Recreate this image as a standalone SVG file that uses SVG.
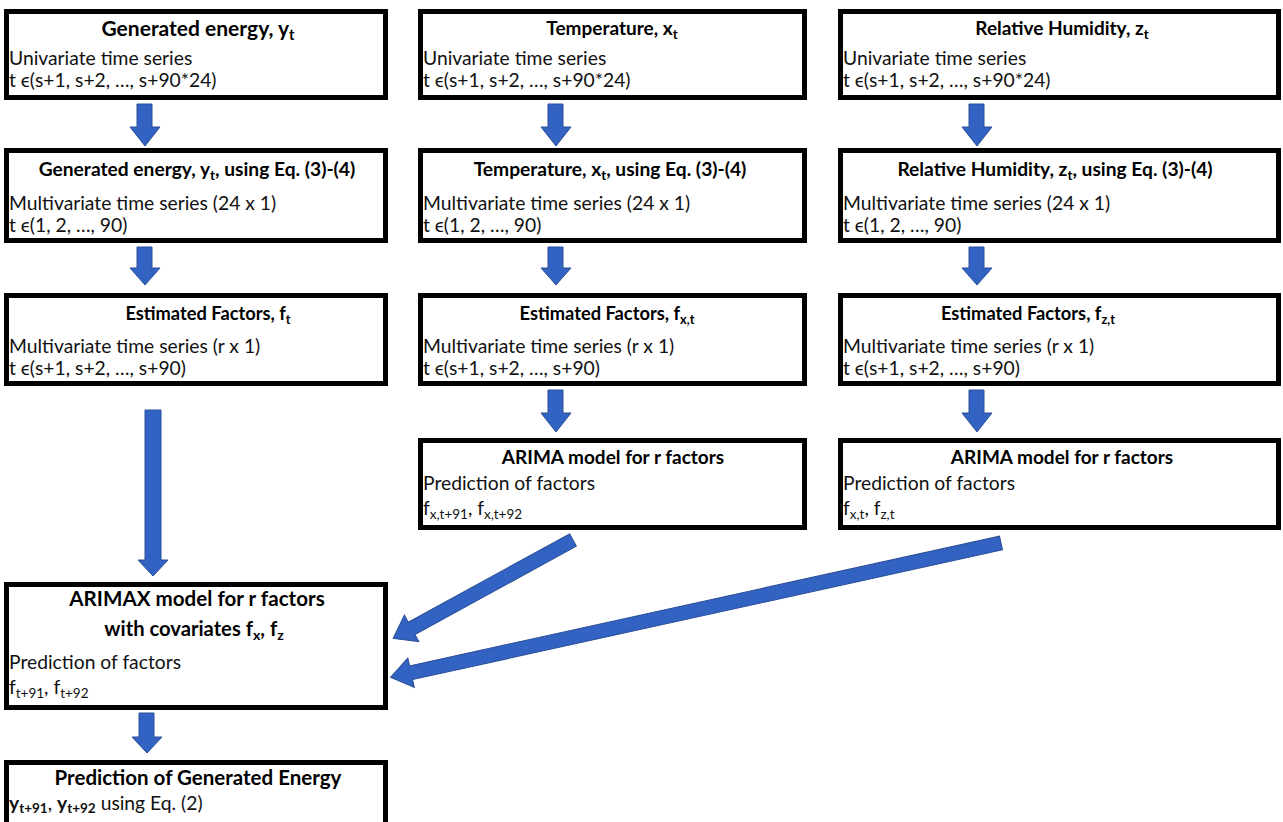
<svg xmlns="http://www.w3.org/2000/svg" width="1283" height="822" viewBox="0 0 1283 822">
<style>
.box{fill:#fff;stroke:#000;stroke-width:5}
.t{font-family:Lato,"Liberation Sans",sans-serif;font-weight:bold;fill:#000;text-anchor:middle}
.b{font-family:Lato,"Liberation Sans",sans-serif;fill:#111;font-size:19.3px}
.s{font-size:70%}
.arr{fill:#3262C2;stroke:#2A4E98;stroke-width:1}
</style>
<rect width="1283" height="822" fill="#fff"/>
<g id="connectors">
<path class="arr" d="M137,104 H152 V127 H160 L145,146 L130,127 H137 Z"/>
<path class="arr" d="M137,247 H152 V268 H160 L145,285 L130,268 H137 Z"/>
<path class="arr" d="M145,410 H161 V560 H168 L153,576 L138,560 H145 Z"/>
<path class="arr" d="M139,713 H154 V737 H162 L147,753 L132,737 H139 Z"/>
<path class="arr" d="M548,104 H563 V127 H571 L556,146 L541,127 H548 Z"/>
<path class="arr" d="M548,247 H563 V268 H571 L556,285 L541,268 H548 Z"/>
<path class="arr" d="M548,390 H563 V413 H571 L556,432 L541,413 H548 Z"/>
<path class="arr" d="M969,104 H984 V127 H992 L977,146 L962,127 H969 Z"/>
<path class="arr" d="M969,247 H984 V268 H992 L977,285 L962,268 H969 Z"/>
<path class="arr" d="M969,390 H984 V413 H992 L977,432 L962,413 H969 Z"/>
<path class="arr" transform="translate(573,540) rotate(151.3)" d="M0,-7 H184 V-15 L205,0 L184,15 V7 H0 Z"/>
<path class="arr" transform="translate(1001,543) rotate(167.6)" d="M0,-7 H604 V-15 L625,0 L604,15 V7 H0 Z"/>
</g>
<g id="n1">
<rect class="box" x="6.5" y="11.5" width="379" height="86"/>
<text class="t" x="198" y="36" font-size="21">Generated energy, y<tspan class="s" dy="4">t</tspan></text>
<text class="b" x="9" y="65">Univariate time series</text>
<text class="b" x="9" y="87">t ϵ(s+1, s+2, …, s+90*24)</text>
</g>
<g id="n2">
<rect class="box" x="420.5" y="11.5" width="384" height="86"/>
<text class="t" x="612" y="35" font-size="19">Temperature, x<tspan class="s" dy="4">t</tspan></text>
<text class="b" x="423" y="65">Univariate time series</text>
<text class="b" x="423" y="87">t ϵ(s+1, s+2, …, s+90*24)</text>
</g>
<g id="n3">
<rect class="box" x="840.5" y="11.5" width="438" height="86"/>
<text class="t" x="1062" y="35" font-size="19">Relative Humidity, z<tspan class="s" dy="4">t</tspan></text>
<text class="b" x="843" y="65">Univariate time series</text>
<text class="b" x="843" y="87">t ϵ(s+1, s+2, …, s+90*24)</text>
</g>
<g id="n4">
<rect class="box" x="6.5" y="150.5" width="379" height="90"/>
<text class="t" x="197" y="176" font-size="19.2">Generated energy, y<tspan class="s" dy="4">t</tspan><tspan dy="-4">, using Eq. (3)-(4)</tspan></text>
<text class="b" x="9" y="210">Multivariate time series (24 x 1)</text>
<text class="b" x="9" y="232">t ϵ(1, 2, …, 90)</text>
</g>
<g id="n5">
<rect class="box" x="420.5" y="150.5" width="384" height="90"/>
<text class="t" x="610" y="176" font-size="19.2">Temperature, x<tspan class="s" dy="4">t</tspan><tspan dy="-4">, using Eq. (3)-(4)</tspan></text>
<text class="b" x="423" y="210">Multivariate time series (24 x 1)</text>
<text class="b" x="423" y="232">t ϵ(1, 2, …, 90)</text>
</g>
<g id="n6">
<rect class="box" x="840.5" y="150.5" width="438" height="90"/>
<text class="t" x="1055" y="176" font-size="19.2">Relative Humidity, z<tspan class="s" dy="4">t</tspan><tspan dy="-4">, using Eq. (3)-(4)</tspan></text>
<text class="b" x="843" y="210">Multivariate time series (24 x 1)</text>
<text class="b" x="843" y="232">t ϵ(1, 2, …, 90)</text>
</g>
<g id="n7">
<rect class="box" x="6.5" y="295.5" width="379" height="88"/>
<text class="t" x="208" y="320" font-size="18.3">Estimated Factors, f<tspan class="s" dy="4">t</tspan></text>
<text class="b" x="9" y="353">Multivariate time series (r x 1)</text>
<text class="b" x="9" y="375">t ϵ(s+1, s+2, …, s+90)</text>
</g>
<g id="n8">
<rect class="box" x="420.5" y="295.5" width="384" height="88"/>
<text class="t" x="607" y="320" font-size="18.3">Estimated Factors, f<tspan class="s" dy="4">x,t</tspan></text>
<text class="b" x="423" y="353">Multivariate time series (r x 1)</text>
<text class="b" x="423" y="375">t ϵ(s+1, s+2, …, s+90)</text>
</g>
<g id="n9">
<rect class="box" x="840.5" y="295.5" width="438" height="88"/>
<text class="t" x="1028" y="320" font-size="18.3">Estimated Factors, f<tspan class="s" dy="4">z,t</tspan></text>
<text class="b" x="843" y="353">Multivariate time series (r x 1)</text>
<text class="b" x="843" y="375">t ϵ(s+1, s+2, …, s+90)</text>
</g>
<g id="n10">
<rect class="box" x="420.5" y="440.5" width="384" height="87"/>
<text class="t" x="613" y="464" font-size="19">ARIMA model for r factors</text>
<text class="b" x="423" y="490">Prediction of factors</text>
<text class="b" x="423" y="515" font-size="17">f<tspan class="s" dy="4">x,t+91</tspan><tspan dy="-4">, f</tspan><tspan class="s" dy="4">x,t+92</tspan></text>
</g>
<g id="n11">
<rect class="box" x="840.5" y="440.5" width="438" height="87"/>
<text class="t" x="1062" y="464" font-size="19">ARIMA model for r factors</text>
<text class="b" x="843" y="490">Prediction of factors</text>
<text class="b" x="843" y="515" font-size="17">f<tspan class="s" dy="4">x,t</tspan><tspan dy="-4">, f</tspan><tspan class="s" dy="4">z,t</tspan></text>
</g>
<g id="n12">
<rect class="box" x="6.5" y="584.5" width="379" height="123"/>
<text class="t" x="197" y="606" font-size="20.6">ARIMAX model for r factors</text>
<text class="t" x="194" y="636" font-size="20.2">with covariates f<tspan class="s" dy="4">x</tspan><tspan dy="-4">, f</tspan><tspan class="s" dy="4">z</tspan></text>
<text class="b" x="9" y="669">Prediction of factors</text>
<text class="b" x="9" y="694" font-size="17">f<tspan class="s" dy="4">t+91</tspan><tspan dy="-4">, f</tspan><tspan class="s" dy="4">t+92</tspan></text>
</g>
<g id="n13">
<rect class="box" x="6.5" y="762.5" width="379" height="80"/>
<text class="t" x="198" y="785" font-size="20.5">Prediction of Generated Energy</text>
<text class="b" x="9" y="810" font-size="20.5"><tspan font-weight="bold">y</tspan><tspan class="s" dy="3" font-weight="bold">t+91</tspan><tspan dy="-3">, </tspan><tspan font-weight="bold">y</tspan><tspan class="s" dy="3" font-weight="bold">t+92</tspan><tspan dy="-3"> using Eq. (2)</tspan></text>
</g>
</svg>
